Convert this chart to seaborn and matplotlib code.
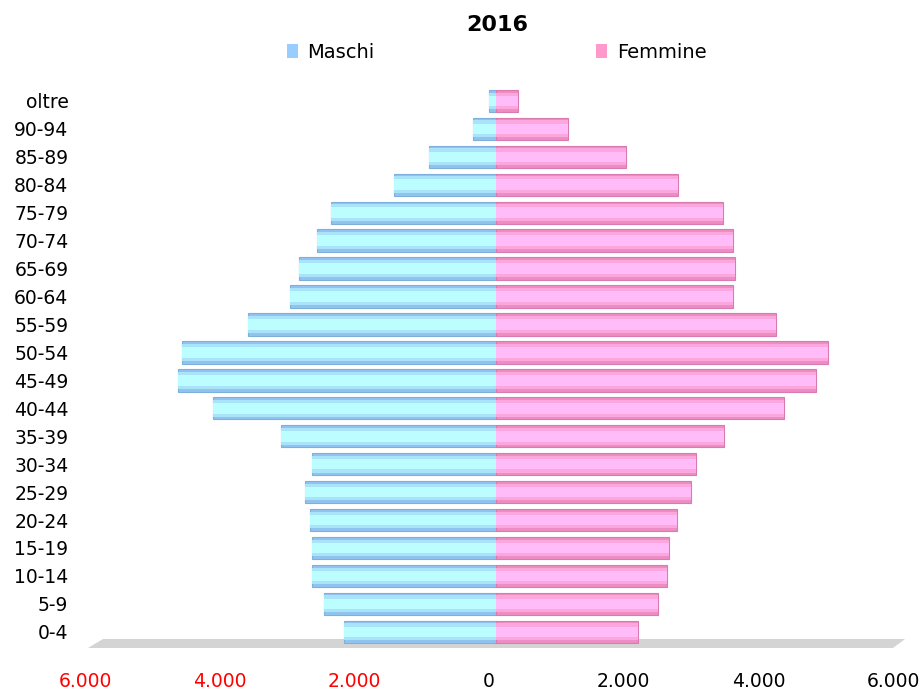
import numpy as np
import pandas as pd
import seaborn as sns
import matplotlib.pyplot as plt
from matplotlib.patches import Patch, Polygon
from matplotlib.transforms import ScaledTranslation

sns.set_theme(style="white")
plt.rcParams['font.family'] = ['DejaVu Sans']
plt.rcParams.update({'text.color': 'black', 'xtick.color': 'black', 'ytick.color': 'black',
                     'axes.labelcolor': 'black'})

# dati (dall'alto verso il basso)
eta = ['oltre', '90-94', '85-89', '80-84', '75-79', '70-74', '65-69', '60-64', '55-59', '50-54',
       '45-49', '40-44', '35-39', '30-34', '25-29', '20-24', '15-19', '10-14', '5-9', '0-4']
maschi = [100, 340, 1000, 1520, 2450, 2660, 2930, 3060, 3690, 4670,
          4720, 4210, 3200, 2740, 2840, 2760, 2730, 2730, 2560, 2260]
femmine = [330, 1070, 1930, 2700, 3370, 3520, 3550, 3520, 4160, 4930,
           4750, 4270, 3380, 2970, 2900, 2690, 2570, 2540, 2410, 2110]
tick_val = [-6000, -4000, -2000, 0, 2000, 4000, 6000]
tick_lab = ['6.000', '4.000', '2.000', '0', '2.000', '4.000', '6.000']

df = pd.DataFrame({'eta': eta, 'maschi': -np.array(maschi), 'femmine': femmine})

fig = plt.figure(figsize=(9.2, 6.9), dpi=100)
ax = fig.add_axes([92 / 920, 35 / 690, 808 / 920, 570 / 690])

# pavimento grigio (effetto 3D)
px = lambda x: (x - 92) / 808
py = lambda y: (655 - y) / 570
floor = Polygon([(px(103), py(639)), (px(905), py(639)), (px(893), py(648)), (px(88), py(648))],
                closed=True, transform=ax.transAxes, facecolor='#D4D4D4', edgecolor='none',
                clip_on=False, zorder=0)
ax.add_patch(floor)

# barre "cilindriche": tre strati per simulare la sfumatura
strati = [(0.8, '#90C4EF', '#EE8DC3', 0.8),
          (0.6, '#A8E3FA', '#FBA6DC', 0),
          (0.38, '#BCFEFF', '#FFBCF9', 0)]
for w, cm, cf, lw in strati:
    sns.barplot(data=df, y='eta', x='maschi', orient='h', color=cm, width=w, saturation=1,
                errorbar=None, ax=ax, linewidth=lw, edgecolor='#7FB0DD' if lw else cm)
    sns.barplot(data=df, y='eta', x='femmine', orient='h', color=cf, width=w, saturation=1,
                errorbar=None, ax=ax, linewidth=lw, edgecolor='#D97AB0' if lw else cf)

ax.set_xlim(-6000, 6000)
ax.set_ylim(19.83, -0.57)
ax.set_xticks(tick_val)
ax.set_xticklabels(tick_lab)
ax.set_xlabel('')
ax.set_ylabel('')
for sp in ax.spines.values():
    sp.set_visible(False)
ax.tick_params(axis='y', length=0, pad=17, labelsize=13.5)
ax.tick_params(axis='x', length=0, pad=12, labelsize=13.5)
shift = ScaledTranslation(-7 / 100, 0, fig.dpi_scale_trans)
for v, lab in zip(tick_val, ax.get_xticklabels()):
    lab.set_color('red' if v < 0 else 'black')
    lab.set_transform(lab.get_transform() + shift)

fig.text(497 / 920, 1 - 25 / 690, '2016', ha='center', va='center', fontsize=16, fontweight='bold')

handles = [Patch(facecolor='#99CCFF', edgecolor='none'), Patch(facecolor='#FF99CC', edgecolor='none')]
fig.legend(handles, ['Maschi', 'Femmine'], loc='center left', bbox_to_anchor=(287 / 920, 1 - 52 / 690),
           ncol=2, frameon=False, fontsize=14, handlelength=0.55, handleheight=0.7,
           handletextpad=0.5, columnspacing=11.4, borderpad=0, borderaxespad=0)

fig.savefig('out.png', dpi=100)
